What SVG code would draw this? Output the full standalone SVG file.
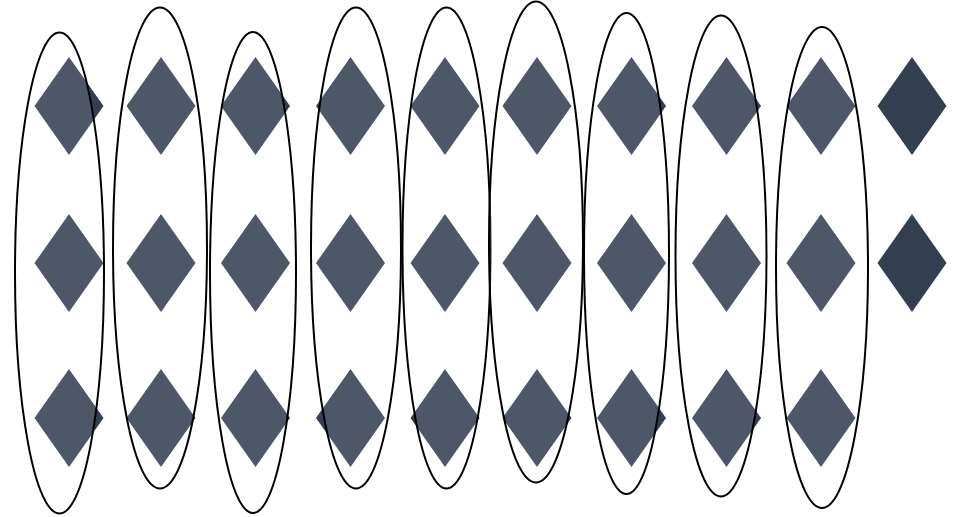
<svg xmlns="http://www.w3.org/2000/svg" width="959" height="517" viewBox="0 0 959 517">
<defs>
<style>
.d{fill:#333e51}
.e{fill:#ffffff;fill-opacity:0.13;stroke:#000;stroke-width:2}
</style>
<polygon id="dm" points="0,-49 34.5,0 0,49 -34.5,0"/>
</defs>
<rect width="959" height="517" fill="#fff"/>
<g id="nodes">
<g id="c1"><use href="#dm" class="d" x="69" y="106"/><use href="#dm" class="d" x="69" y="263"/><use href="#dm" class="d" x="69" y="418"/></g>
<g id="c2"><use href="#dm" class="d" x="161" y="106"/><use href="#dm" class="d" x="161" y="263"/><use href="#dm" class="d" x="161" y="418"/></g>
<g id="c3"><use href="#dm" class="d" x="255.5" y="106"/><use href="#dm" class="d" x="255.5" y="263"/><use href="#dm" class="d" x="255.5" y="418"/></g>
<g id="c4"><use href="#dm" class="d" x="350.5" y="106"/><use href="#dm" class="d" x="350.5" y="263"/><use href="#dm" class="d" x="350.5" y="418"/></g>
<g id="c5"><use href="#dm" class="d" x="445" y="106"/><use href="#dm" class="d" x="445" y="263"/><use href="#dm" class="d" x="445" y="418"/></g>
<g id="c6"><use href="#dm" class="d" x="537" y="106"/><use href="#dm" class="d" x="537" y="263"/><use href="#dm" class="d" x="537" y="418"/></g>
<g id="c7"><use href="#dm" class="d" x="631.5" y="106"/><use href="#dm" class="d" x="631.5" y="263"/><use href="#dm" class="d" x="631.5" y="418"/></g>
<g id="c8"><use href="#dm" class="d" x="726.5" y="106"/><use href="#dm" class="d" x="726.5" y="263"/><use href="#dm" class="d" x="726.5" y="418"/></g>
<g id="c9"><use href="#dm" class="d" x="821" y="106"/><use href="#dm" class="d" x="821" y="263"/><use href="#dm" class="d" x="821" y="418"/></g>
<g id="c10"><use href="#dm" class="d" x="912" y="106"/><use href="#dm" class="d" x="912" y="263"/></g>
</g>
<g id="groups">
<ellipse id="e1" class="e" cx="59.5" cy="273" rx="44.5" ry="240.5"/>
<ellipse id="e2" class="e" cx="160" cy="248" rx="47" ry="240.5"/>
<ellipse id="e3" class="e" cx="253" cy="272.5" rx="43" ry="240.5"/>
<ellipse id="e4" class="e" cx="356" cy="248" rx="45" ry="240.5"/>
<ellipse id="e5" class="e" cx="446.5" cy="248" rx="44" ry="240.5"/>
<ellipse id="e6" class="e" cx="536" cy="242" rx="47" ry="240.5"/>
<ellipse id="e7" class="e" cx="626.5" cy="253.5" rx="42.5" ry="240.5"/>
<ellipse id="e8" class="e" cx="721" cy="256" rx="45.5" ry="240.5"/>
<ellipse id="e9" class="e" cx="822" cy="267.5" rx="46" ry="240.5"/>
</g>
</svg>
